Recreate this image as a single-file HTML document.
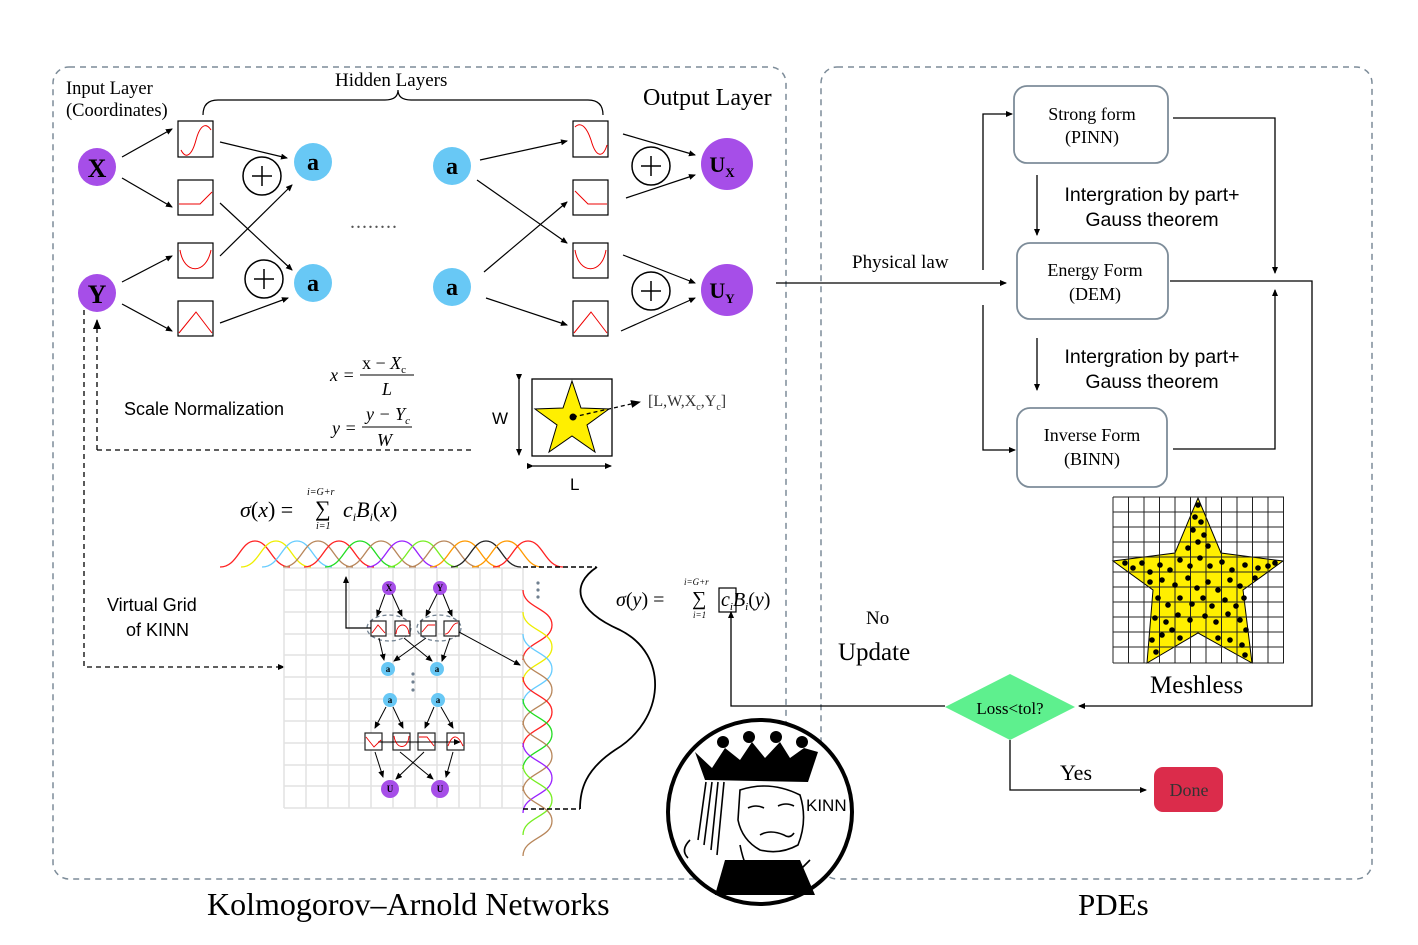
<!DOCTYPE html>
<html><head><meta charset="utf-8"><style>
html,body{margin:0;padding:0;background:#fff;}
svg{display:block;}
.s{font-family:"Liberation Serif",serif;}
.a{font-family:"Liberation Sans",sans-serif;}
</style></head><body>
<svg width="1418" height="945" viewBox="0 0 1418 945" xmlns="http://www.w3.org/2000/svg">
<defs>
<marker id="ar" markerWidth="10" markerHeight="8" refX="9" refY="4" orient="auto" markerUnits="userSpaceOnUse"><path d="M0,0 L10,4 L0,8 z" fill="#000"/></marker>
<marker id="as" markerWidth="7" markerHeight="6" refX="6" refY="3" orient="auto" markerUnits="userSpaceOnUse"><path d="M0,0 L7,3 L0,6 z" fill="#000"/></marker>
</defs>
<rect x="53" y="67" width="733" height="812" rx="16" fill="none" stroke="#7d8c99" stroke-width="1.5" stroke-dasharray="6,5"/>
<rect x="821" y="67" width="551" height="812" rx="16" fill="none" stroke="#7d8c99" stroke-width="1.5" stroke-dasharray="6,5"/>

<g class="s" font-size="18.5">
<text x="66" y="94">Input Layer</text>
<text x="66" y="116">(Coordinates)</text>
<text x="335" y="86" font-size="19">Hidden Layers</text>
<text x="643" y="105" font-size="24">Output Layer</text>
</g>
<path d="M203,115 Q203,100 218,100 L385,100 Q398,100 398,90 Q398,100 411,100 L588,100 Q603,100 603,115" fill="none" stroke="#000" stroke-width="1.2"/>

<g class="s" font-weight="bold" text-anchor="middle">
<circle cx="97" cy="167" r="19" fill="#a64ee8"/><text x="97" y="177" font-size="26">X</text>
<circle cx="97" cy="293" r="19" fill="#a64ee8"/><text x="97" y="303" font-size="26">Y</text>
<circle cx="313" cy="162" r="19" fill="#68c8f5"/><text x="313" y="170" font-size="24">a</text>
<circle cx="313" cy="283" r="19" fill="#68c8f5"/><text x="313" y="291" font-size="24">a</text>
<circle cx="452" cy="166" r="19" fill="#68c8f5"/><text x="452" y="174" font-size="24">a</text>
<circle cx="452" cy="287" r="19" fill="#68c8f5"/><text x="452" y="295" font-size="24">a</text>
<circle cx="727" cy="164" r="26" fill="#a64ee8"/><text x="722" y="172" font-size="22">U<tspan font-size="13" dy="5">X</tspan></text>
<circle cx="727" cy="290" r="26" fill="#a64ee8"/><text x="722" y="298" font-size="22">U<tspan font-size="13" dy="5">Y</tspan></text>
</g>
<g fill="none" stroke="#000" stroke-width="1.5">
<circle cx="262" cy="176" r="19"/><circle cx="264" cy="279" r="19"/>
<circle cx="651" cy="166" r="19"/><circle cx="651" cy="291" r="19"/>
<path d="M252,176h20M262,166v20M254,279h20M264,269v20M641,166h20M651,156v20M641,291h20M651,281v20"/>
</g>
<g fill="#fff" stroke="#000" stroke-width="1.2">
<rect x="178" y="121" width="35" height="36"/><rect x="178" y="180" width="35" height="35"/><rect x="178" y="243" width="35" height="35"/><rect x="178" y="301" width="35" height="35"/>
<rect x="573" y="121" width="35" height="36"/><rect x="573" y="180" width="35" height="35"/><rect x="573" y="243" width="35" height="35"/><rect x="573" y="301" width="35" height="35"/>
</g>
<g fill="none" stroke="#e00" stroke-width="1">
<path d="M181,150 C186,160 192,155 196,140 C200,125 206,122 211,130"/>
<path d="M179,204 L200,204 L212,192"/>
<path d="M180,250 C184,275 206,275 211,250"/>
<path d="M179,333 L196,312 L212,333"/>
<path d="M575,127 C580,122 586,125 591,140 C596,158 603,158 607,145"/>
<path d="M575,191 L588,204 L607,204"/>
<path d="M575,250 C579,275 602,275 606,250"/>
<path d="M574,333 L591,312 L607,333"/>
</g>
<g stroke="#000" stroke-width="1.2" marker-end="url(#as)">
<line x1="122" y1="157" x2="172" y2="129"/><line x1="122" y1="178" x2="172" y2="207"/>
<line x1="122" y1="282" x2="172" y2="256"/><line x1="122" y1="304" x2="172" y2="331"/>
<line x1="220" y1="142" x2="287" y2="158"/><line x1="220" y1="256" x2="292" y2="185"/>
<line x1="220" y1="203" x2="292" y2="270"/><line x1="220" y1="323" x2="288" y2="298"/>
<line x1="480" y1="160" x2="567" y2="141"/><line x1="477" y1="180" x2="567" y2="243"/>
<line x1="484" y1="272" x2="567" y2="202"/><line x1="486" y1="298" x2="567" y2="325"/>
<line x1="623" y1="134" x2="695" y2="155"/><line x1="626" y1="198" x2="695" y2="175"/>
<line x1="623" y1="255" x2="695" y2="283"/><line x1="621" y1="331" x2="695" y2="298"/>
</g>
<text x="350" y="228" font-size="20" fill="#555" letter-spacing="1">........</text>

<path d="M84,310 V667 H284" fill="none" stroke="#000" stroke-width="1.3" stroke-dasharray="5,4" marker-end="url(#as)"/>
<path d="M97,450 H472" fill="none" stroke="#000" stroke-width="1.3" stroke-dasharray="5,4"/>
<path d="M97,450 V320" fill="none" stroke="#000" stroke-width="1.3" stroke-dasharray="5,4" marker-end="url(#ar)"/>
<text x="124" y="415" class="a" font-size="18">Scale Normalization</text>
<g class="s" font-size="18" font-style="italic">
<text x="330" y="381">x =</text><text x="362" y="369" font-style="normal">x − <tspan font-style="italic">X</tspan><tspan font-size="11" dy="4">c</tspan></text>
<line x1="360" y1="375" x2="414" y2="375" stroke="#000"/><text x="382" y="395">L</text>
<text x="332" y="434">y =</text><text x="366" y="420">y − Y<tspan font-size="11" dy="4">c</tspan></text>
<line x1="362" y1="427" x2="412" y2="427" stroke="#000"/><text x="377" y="446">W</text>
</g>
<rect x="532" y="379" width="80" height="77" fill="#fff" stroke="#000" stroke-width="1.3"/>
<path d="M572,381 L581,408 L609,409 L587,425 L595,452 L572,436 L549,452 L557,425 L535,409 L563,408 z" fill="#ffef00" stroke="#000"/>
<circle cx="573" cy="417" r="3.5" fill="#000"/>
<line x1="573" y1="417" x2="640" y2="402" stroke="#000" stroke-width="1.3" stroke-dasharray="4,3" marker-end="url(#ar)"/>
<text x="648" y="406" class="s" font-size="16" fill="#333">[L,W,X<tspan font-size="10" dy="4">c</tspan><tspan dy="-4">,Y</tspan><tspan font-size="10" dy="4">c</tspan><tspan dy="-4">]</tspan></text>
<line x1="519" y1="380" x2="519" y2="455" stroke="#000" stroke-width="1.3" marker-end="url(#as)" marker-start="url(#as)"/>
<line x1="533" y1="466" x2="611" y2="466" stroke="#000" stroke-width="1.3" marker-end="url(#as)" marker-start="url(#as)"/>
<text x="492" y="424" class="a" font-size="17">W</text><text x="570" y="490" class="a" font-size="17">L</text>

<g class="s" font-style="italic">
<text x="240" y="517" font-size="22">σ<tspan font-style="normal">(</tspan>x<tspan font-style="normal">) =</tspan></text>
<text x="307" y="495" font-size="10">i=G+r</text><text x="315" y="516" font-size="22" font-style="normal">∑</text><text x="316" y="529" font-size="10">i=1</text>
<text x="343" y="517" font-size="22">c<tspan font-size="12" dy="4">i</tspan><tspan dy="-4">B</tspan><tspan font-size="12" dy="4">i</tspan><tspan dy="-4" font-style="normal">(</tspan>x<tspan font-style="normal">)</tspan></text>
<text x="616" y="606" font-size="20">σ<tspan font-style="normal">(</tspan>y<tspan font-style="normal">) =</tspan></text>
<text x="684" y="585" font-size="9">i=G+r</text><text x="692" y="605" font-size="20" font-style="normal">∑</text><text x="693" y="618" font-size="9">i=1</text>
<text x="721" y="606" font-size="20">c<tspan font-size="11" dy="4">i</tspan><tspan dy="-4">B</tspan><tspan font-size="11" dy="4">i</tspan><tspan dy="-4" font-style="normal">(</tspan>y<tspan font-style="normal">)</tspan></text>
</g>
<rect x="719" y="588" width="17" height="24" fill="none" stroke="#000" stroke-width="1.2"/>

<g stroke="#e2e2e2" stroke-width="1.5">
<path d="M284,568V808M306,568V808M328,568V808M349,568V808M371,568V808M393,568V808M415,568V808M437,568V808M459,568V808M480,568V808M502,568V808M523,568V808"/>
<path d="M284,568H523M284,590H523M284,612H523M284,634H523M284,655H523M284,677H523M284,699H523M284,721H523M284,743H523M284,765H523M284,786H523M284,808H523"/>
</g>
<g fill="none" stroke-width="1.3">
<path d="M220,567 C238,567 240,541 255,541 C270,541 272,567 290,567" stroke="#f22"/>
<path d="M241,567 C259,567 261,541 276,541 C291,541 293,567 311,567" stroke="#ee0"/>
<path d="M262,567 C280,567 282,541 297,541 C312,541 314,567 332,567" stroke="#6cf"/>
<path d="M283,567 C301,567 303,541 318,541 C333,541 335,567 353,567" stroke="#b8865a"/>
<path d="M304,567 C322,567 324,541 339,541 C354,541 356,567 374,567" stroke="#f22"/>
<path d="M325,567 C343,567 345,541 360,541 C375,541 377,567 395,567" stroke="#2d2"/>
<path d="M346,567 C364,567 366,541 381,541 C396,541 398,567 416,567" stroke="#b8865a"/>
<path d="M367,567 C385,567 387,541 402,541 C417,541 419,567 437,567" stroke="#92f"/>
<path d="M388,567 C406,567 408,541 423,541 C438,541 440,567 458,567" stroke="#7e2"/>
<path d="M409,567 C427,567 429,541 444,541 C459,541 461,567 479,567" stroke="#b8865a"/>
<path d="M430,567 C448,567 450,541 465,541 C480,541 482,567 500,567" stroke="#f90"/>
<path d="M451,567 C469,567 471,541 486,541 C501,541 503,567 521,567" stroke="#222"/>
<path d="M472,567 C490,567 492,541 507,541 C522,541 524,567 542,567" stroke="#f90"/>
<path d="M493,567 C511,567 513,541 528,541 C543,541 545,567 563,567" stroke="#f22"/>
</g>
<g fill="none" stroke-width="1.3">
<path d="M523,590 C523,608 552,608 552,625 C552,642 523,642 523,660" stroke="#f22"/>
<path d="M523,612 C523,630 552,630 552,647 C552,664 523,664 523,682" stroke="#ee0"/>
<path d="M523,634 C523,652 552,652 552,669 C552,686 523,686 523,704" stroke="#6cf"/>
<path d="M523,655 C523,673 552,673 552,690 C552,707 523,707 523,725" stroke="#b8865a"/>
<path d="M523,677 C523,695 552,695 552,712 C552,729 523,729 523,747" stroke="#f22"/>
<path d="M523,699 C523,717 552,717 552,734 C552,751 523,751 523,769" stroke="#2d2"/>
<path d="M523,721 C523,739 552,739 552,756 C552,773 523,773 523,791" stroke="#b8865a"/>
<path d="M523,743 C523,761 552,761 552,778 C552,795 523,795 523,813" stroke="#92f"/>
<path d="M523,765 C523,783 552,783 552,800 C552,817 523,817 523,835" stroke="#7e2"/>
<path d="M523,786 C523,804 552,804 552,821 C552,838 523,838 523,856" stroke="#b8865a"/>
</g>
<path d="M523,567 H596 M523,809 H580" stroke="#000" stroke-width="1.5" stroke-dasharray="5,3" fill="none"/>
<path d="M597,567 C570,585 575,610 620,630 C670,655 665,720 615,750 C585,770 580,790 580,809" fill="none" stroke="#000" stroke-width="1.8"/>
<g fill="#708090"><circle cx="538" cy="583" r="1.6"/><circle cx="538" cy="590" r="1.6"/><circle cx="538" cy="597" r="1.6"/>
<circle cx="413" cy="674" r="1.6"/><circle cx="413" cy="682" r="1.6"/><circle cx="413" cy="690" r="1.6"/></g>
<text x="107" y="611" class="a" font-size="18">Virtual Grid</text><text x="126" y="636" class="a" font-size="18">of KINN</text>

<g class="s" font-weight="bold" font-size="9" text-anchor="middle">
<circle cx="389" cy="588" r="7" fill="#a64ee8"/><text x="389" y="591">X</text>
<circle cx="440" cy="588" r="7" fill="#a64ee8"/><text x="440" y="591">Y</text>
<circle cx="388" cy="669" r="7" fill="#68c8f5"/><text x="388" y="672">a</text>
<circle cx="437" cy="669" r="7" fill="#68c8f5"/><text x="437" y="672">a</text>
<circle cx="390" cy="700" r="7" fill="#68c8f5"/><text x="390" y="703">a</text>
<circle cx="438" cy="700" r="7" fill="#68c8f5"/><text x="438" y="703">a</text>
<circle cx="390" cy="789" r="9" fill="#a64ee8"/><text x="390" y="792">U</text>
<circle cx="440" cy="789" r="9" fill="#a64ee8"/><text x="440" y="792">U</text>
</g>
<g fill="none" stroke="#708090" stroke-width="1.3" stroke-dasharray="4,3">
<ellipse cx="389" cy="628" rx="22" ry="13"/><ellipse cx="439" cy="628" rx="22" ry="13"/></g>
<g fill="#fff" stroke="#222" stroke-width="1.2">
<rect x="371" y="621" width="15" height="15"/><rect x="395" y="621" width="15" height="15"/><rect x="421" y="621" width="15" height="15"/><rect x="444" y="621" width="15" height="15"/>
<rect x="365" y="733" width="17" height="17"/><rect x="393" y="733" width="17" height="17"/><rect x="418" y="733" width="17" height="17"/><rect x="447" y="733" width="17" height="17"/>
</g>
<g stroke="#000" stroke-width="1" marker-end="url(#as)">
<line x1="385" y1="594" x2="377" y2="616"/><line x1="392" y1="594" x2="402" y2="616"/>
<line x1="437" y1="594" x2="426" y2="616"/><line x1="443" y1="594" x2="452" y2="616"/>
<line x1="379" y1="638" x2="384" y2="660"/><line x1="404" y1="638" x2="432" y2="661"/>
<line x1="426" y1="638" x2="394" y2="661"/><line x1="450" y1="638" x2="442" y2="661"/>
<line x1="386" y1="707" x2="375" y2="728"/><line x1="393" y1="707" x2="403" y2="728"/>
<line x1="434" y1="707" x2="425" y2="728"/><line x1="441" y1="707" x2="453" y2="728"/>
<line x1="375" y1="752" x2="383" y2="777"/><line x1="400" y1="752" x2="433" y2="779"/>
<line x1="424" y1="752" x2="396" y2="779"/><line x1="453" y1="752" x2="446" y2="777"/>
<line x1="459" y1="632" x2="520" y2="665"/>
<line x1="378" y1="742" x2="460" y2="742"/>
</g>
<path d="M371,628 H346 V577" fill="none" stroke="#000" stroke-width="1.2" marker-end="url(#as)"/>
<g fill="none" stroke="#e00" stroke-width="0.9">
<path d="M372,633 L378,625 L385,633"/><path d="M396,634 C397,622 408,622 409,634"/><path d="M422,632 L428,625 L435,625"/><path d="M445,634 C450,635 452,622 458,623"/>
<path d="M366,737 L374,747 L381,740"/><path d="M394,736 C396,750 408,750 409,736"/><path d="M419,737 L427,737 L434,746"/><path d="M448,746 C452,735 457,733 463,746"/>
</g>

<circle cx="760" cy="812" r="92" fill="#fff" stroke="#000" stroke-width="4"/>
<path d="M695,752 L712,768 L725,748 L740,760 L752,742 L765,758 L780,742 L790,758 L804,748 L818,752 L808,782 L705,780 z" fill="#000"/>
<circle cx="723" cy="742" r="6" fill="#000"/><circle cx="749" cy="737" r="6" fill="#000"/><circle cx="776" cy="737" r="6" fill="#000"/><circle cx="802" cy="742" r="6" fill="#000"/>
<g fill="none" stroke="#000" stroke-width="1.6">
<path d="M706,782 L698,840 M712,782 L704,845 M718,782 L711,850 M724,782 L717,855 M690,840 Q680,850 688,858"/>
<path d="M740,790 Q770,780 800,795 Q808,820 798,845 Q780,855 760,850 Q742,840 738,820 z"/>
<path d="M748,808 q8,-4 16,0 M778,806 q8,-4 16,0 M760,835 q10,-6 24,0 q6,4 10,-2"/>
<path d="M740,845 Q745,870 755,880 Q770,870 785,885 Q800,870 810,860"/>
</g>
<path d="M725,860 L800,860 L815,895 L715,895 z" fill="#000"/>
<text x="806" y="811" class="a" font-size="17">KINN</text>

<g fill="#fff" stroke="#7d8c99" stroke-width="1.8">
<rect x="1014" y="86" width="154" height="77" rx="13"/>
<rect x="1017" y="243" width="151" height="76" rx="13"/>
<rect x="1017" y="408" width="150" height="79" rx="13"/>
</g>
<g class="s" font-size="18" text-anchor="middle">
<text x="1092" y="120">Strong form</text><text x="1092" y="143">(PINN)</text>
<text x="1095" y="276">Energy Form</text><text x="1095" y="300">(DEM)</text>
<text x="1092" y="441">Inverse   Form</text><text x="1092" y="465">(BINN)</text>
</g>
<g class="a" font-size="19.5" text-anchor="middle">
<text x="1152" y="201">Intergration by part+</text><text x="1152" y="226">Gauss theorem</text>
<text x="1152" y="363">Intergration by part+</text><text x="1152" y="388">Gauss theorem</text>
</g>
<g fill="none" stroke="#000" stroke-width="1.3">
<path d="M983,270 V114 H1012" marker-end="url(#as)"/>
<path d="M983,305 V450 H1015" marker-end="url(#as)"/>
<path d="M1173,118 H1275 V273" marker-end="url(#as)"/>
<path d="M1173,449 H1275 V290" marker-end="url(#as)"/>
<path d="M1037,175 V235" marker-end="url(#as)"/>
<path d="M1037,338 V390" marker-end="url(#as)"/>
<path d="M776,283 H1006" marker-end="url(#as)"/>
<path d="M1170,281 H1312 V706 H1079" marker-end="url(#as)"/>
<path d="M945,706 H731 V612" marker-end="url(#as)"/>
<path d="M1010,740 V790 H1146" marker-end="url(#as)"/>
</g>
<text x="852" y="268" class="s" font-size="19">Physical law</text>
<polygon points="945,707 1010,674 1075,707 1010,740" fill="#5ef08e"/>
<text x="1010" y="714" class="s" font-size="17" text-anchor="middle">Loss&lt;tol?</text>
<rect x="1154" y="767" width="69" height="45" rx="9" fill="#db2c4b"/>
<text x="1189" y="796" class="s" font-size="18" text-anchor="middle" fill="#333">Done</text>
<text x="1060" y="780" class="s" font-size="22">Yes</text>
<text x="866" y="624" class="s" font-size="19">No</text>
<text x="838" y="660" class="s" font-size="25">Update</text>
<text x="1150" y="693" class="s" font-size="25">Meshless</text>

<path d="M1198,498 L1221,553 L1283,561 L1243,590 L1252,663 L1198,633 L1147,663 L1153,590 L1113,561 L1175,553 z" fill="#ffef00" stroke="#000"/>
<g stroke="#222" stroke-width="1">
<path d="M1113,497V663M1128.5,497V663M1144,497V663M1159.5,497V663M1175,497V663M1190.5,497V663M1206,497V663M1221.5,497V663M1237,497V663M1252.5,497V663M1268,497V663M1283.5,497V663"/>
<path d="M1113,497H1284M1113,512H1284M1113,527H1284M1113,542H1284M1113,557H1284M1113,572H1284M1113,587H1284M1113,602H1284M1113,617H1284M1113,632H1284M1113,647H1284M1113,663H1284"/>
</g>
<g fill="#000">
<circle cx="1198" cy="505" r="2.8"/><circle cx="1195" cy="517" r="2.8"/><circle cx="1201" cy="522" r="2.8"/><circle cx="1193" cy="530" r="2.8"/><circle cx="1204" cy="535" r="2.8"/><circle cx="1198" cy="542" r="2.8"/><circle cx="1188" cy="548" r="2.8"/><circle cx="1208" cy="546" r="2.8"/>
<circle cx="1125" cy="563" r="2.8"/><circle cx="1133" cy="568" r="2.8"/><circle cx="1142" cy="563" r="2.8"/><circle cx="1150" cy="572" r="2.8"/><circle cx="1160" cy="565" r="2.8"/><circle cx="1170" cy="570" r="2.8"/><circle cx="1180" cy="560" r="2.8"/><circle cx="1190" cy="566" r="2.8"/><circle cx="1200" cy="558" r="2.8"/><circle cx="1210" cy="566" r="2.8"/><circle cx="1222" cy="562" r="2.8"/><circle cx="1232" cy="570" r="2.8"/><circle cx="1245" cy="565" r="2.8"/><circle cx="1258" cy="568" r="2.8"/><circle cx="1268" cy="566" r="2.8"/><circle cx="1275" cy="563" r="2.8"/>
<circle cx="1150" cy="582" r="2.8"/><circle cx="1162" cy="580" r="2.8"/><circle cx="1175" cy="585" r="2.8"/><circle cx="1188" cy="578" r="2.8"/><circle cx="1197" cy="588" r="2.8"/><circle cx="1208" cy="582" r="2.8"/><circle cx="1218" cy="590" r="2.8"/><circle cx="1230" cy="580" r="2.8"/><circle cx="1240" cy="586" r="2.8"/><circle cx="1255" cy="578" r="2.8"/>
<circle cx="1158" cy="598" r="2.8"/><circle cx="1168" cy="605" r="2.8"/><circle cx="1180" cy="598" r="2.8"/><circle cx="1192" cy="604" r="2.8"/><circle cx="1203" cy="598" r="2.8"/><circle cx="1212" cy="606" r="2.8"/><circle cx="1225" cy="600" r="2.8"/><circle cx="1236" cy="606" r="2.8"/><circle cx="1244" cy="598" r="2.8"/>
<circle cx="1155" cy="618" r="2.8"/><circle cx="1166" cy="622" r="2.8"/><circle cx="1178" cy="615" r="2.8"/><circle cx="1190" cy="620" r="2.8"/><circle cx="1205" cy="616" r="2.8"/><circle cx="1216" cy="622" r="2.8"/><circle cx="1228" cy="614" r="2.8"/><circle cx="1240" cy="620" r="2.8"/><circle cx="1246" cy="630" r="2.8"/>
<circle cx="1152" cy="640" r="2.8"/><circle cx="1162" cy="635" r="2.8"/><circle cx="1172" cy="630" r="2.8"/><circle cx="1180" cy="638" r="2.8"/><circle cx="1218" cy="638" r="2.8"/><circle cx="1230" cy="640" r="2.8"/><circle cx="1242" cy="645" r="2.8"/><circle cx="1156" cy="652" r="2.8"/><circle cx="1245" cy="655" r="2.8"/>
</g>

<text x="207" y="915" class="s" font-size="32">Kolmogorov–Arnold Networks</text>
<text x="1078" y="915" class="s" font-size="31">PDEs</text>
</svg>
</body></html>
